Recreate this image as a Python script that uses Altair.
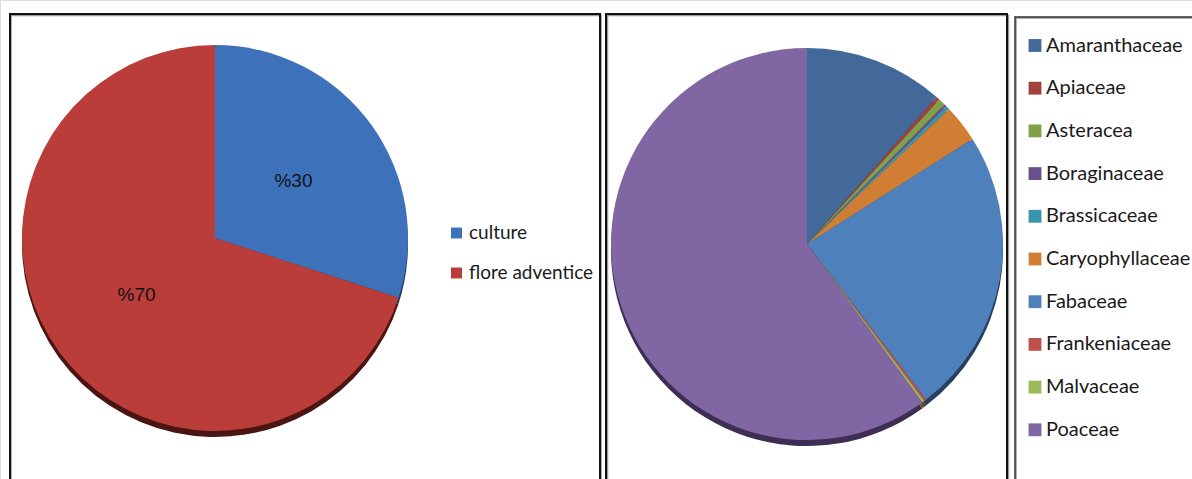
import altair as alt
import pandas as pd

# ---- data ----
groups = ["culture", "flore adventice"]
group_share = [30, 70]
group_labels = ["%30", "%70"]
group_colors = ["#3D72BB", "#BA3D3A"]
group_shadow = ["#1F3B66", "#4A1513"]

families = ["Amaranthaceae", "Apiaceae", "Asteracea", "Boraginaceae", "Brassicaceae",
            "Caryophyllaceae", "Fabaceae", "Frankeniaceae", "Malvaceae", "Poaceae"]
family_share = [11.5, 0.3, 0.6, 0.2, 0.3, 3.1, 23.6, 0.2, 0.2, 60.0]
family_colors = ["#43689A", "#A0413E", "#80A04A", "#6A4F8D", "#3A96AC",
                 "#D17E35", "#4E80BC", "#C0504D", "#9BBB59", "#8066A2"]
family_shadow = ["#23384F", "#501F1E", "#40502A", "#352846", "#1D4B56",
                 "#68401B", "#27405E", "#602826", "#4E5E2C", "#3D2E55"]

df1 = pd.DataFrame({"group": groups, "share": group_share, "label": group_labels,
                    "ord": list(range(len(groups)))})
df2 = pd.DataFrame({"family": families, "share": family_share,
                    "ord": list(range(len(families)))})

W, H = 1192, 479
C1X, C1Y, R1 = 215, 238, 193
C2X, C2Y, R2 = 807, 244, 196
FONT = "Lato"

theta = alt.Theta("share:Q", stack=True)

# left pie
shadow1 = alt.Chart(df1).mark_arc(radius=R1).encode(
    theta=theta, order="ord:O",
    color=alt.Color("group:N", scale=alt.Scale(domain=groups, range=group_shadow), legend=None),
    x=alt.value(C1X), y=alt.value(C1Y + 6),
)
pie1 = alt.Chart(df1).mark_arc(radius=R1).encode(
    theta=theta, order="ord:O",
    color=alt.Color("group:N", scale=alt.Scale(domain=groups, range=group_colors),
                    legend=alt.Legend(orient="none", legendX=447, legendY=223.5, title=None,
                                      symbolType="square", symbolSize=120, symbolStrokeWidth=0,
                                      labelFont=FONT, labelFontSize=19, labelColor="#1a1a1a",
                                      rowPadding=20, labelOffset=3, padding=0)),
    x=alt.value(C1X), y=alt.value(C1Y),
)
text1 = alt.Chart(df1).mark_text(radius=97, font="Liberation Sans", fontSize=19, color="#111").encode(
    theta=theta, order="ord:O", text="label:N",
    x=alt.value(C1X), y=alt.value(C1Y),
)

# right pie
shadow2 = alt.Chart(df2).mark_arc(radius=R2).encode(
    theta=theta, order="ord:O",
    color=alt.Color("family:N", scale=alt.Scale(domain=families, range=family_shadow), legend=None),
    x=alt.value(C2X), y=alt.value(C2Y + 6),
)
pie2 = alt.Chart(df2).mark_arc(radius=R2).encode(
    theta=theta, order="ord:O",
    color=alt.Color("family:N", scale=alt.Scale(domain=families, range=family_colors),
                    legend=alt.Legend(orient="none", legendX=1025, legendY=35.5, title=None,
                                      symbolType="square", symbolSize=165, symbolStrokeWidth=0,
                                      labelFont=FONT, labelFontSize=20, labelColor="#1a1a1a",
                                      rowPadding=22.7, labelOffset=1, padding=0)),
    x=alt.value(C2X), y=alt.value(C2Y),
)

# panel frames
frame_df = pd.DataFrame({"k": [0]})
def frame(x1, x2, y1, color="#111", sw=2):
    return alt.Chart(frame_df).mark_rect(fillOpacity=0, stroke=color, strokeWidth=sw).encode(
        x=alt.value(x1), x2=alt.value(x2), y=alt.value(y1), y2=alt.value(H + 20))

frames = [
    frame(11, 601, 15.5, "#999", 1.5), frame(10, 600, 14),
    frame(607.5, 1008.5, 15.5, "#999", 1.5), frame(606, 1007, 14),
    frame(1016, 1230, 18, "#999", 1.5), frame(1015, 1230, 17, "#333", 1.5),
]

chart = alt.layer(
    *frames, shadow1, pie1, text1, shadow2, pie2
).resolve_scale(color="independent", theta="independent").properties(
    width=W, height=H, padding=0, autosize=alt.AutoSizeParams(type="none")
).configure_view(stroke=None).configure(background="white")

chart.save("out.html", embed_options={"renderer": "svg", "actions": False})
